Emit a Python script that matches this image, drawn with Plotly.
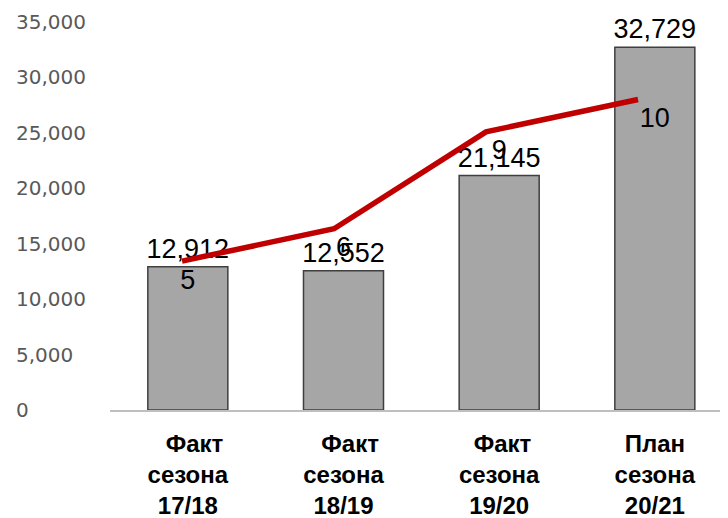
import plotly.graph_objects as go

categories = ["\u00a0\u00a0Факт<br>сезона<br>17/18", "\u00a0\u00a0Факт<br>сезона<br>18/19",
              "\u00a0Факт<br>сезона<br>19/20", "План<br>сезона<br>20/21"]
bar_values = [12912, 12552, 21145, 32729]
line_values = [5, 6, 9, 10]
y_ticks = [0, 5000, 10000, 15000, 20000, 25000, 30000, 35000]

fig = go.Figure()

fig.add_trace(go.Bar(
    x=categories, y=bar_values,
    width=0.514,
    marker=dict(color="#A6A6A6", line=dict(color="#3F3F3F", width=1.5)),
    text=[f"{v:,}" for v in bar_values],
    textposition="outside",
    constraintext="none",
    cliponaxis=False,
    textfont=dict(family="Liberation Sans", size=27, color="#000000"),
    xaxis="x", yaxis="y",
))

fig.add_trace(go.Scatter(
    x=categories, y=line_values,
    mode="lines",
    line=dict(color="#C00000", width=5.5),
    xaxis="x2", yaxis="y2",
))

fig.add_trace(go.Scatter(
    x=categories, y=line_values,
    mode="markers+text",
    marker=dict(size=10, color="rgba(0,0,0,0)"),
    text=[str(v) for v in line_values],
    textposition="bottom center",
    textfont=dict(family="Liberation Sans", size=27, color="#000000"),
    cliponaxis=False,
    xaxis="x", yaxis="y2",
))

fig.update_layout(
    width=720, height=510,
    margin=dict(l=7, r=0, t=14, b=108),
    paper_bgcolor="white", plot_bgcolor="white",
    showlegend=False,
    xaxis=dict(
        domain=[95 / 713, 1],
        range=[-0.5, 3.47],
        showline=True, linecolor="#BFBFBF", linewidth=2,
        showgrid=False, ticks="",
        tickfont=dict(family="Liberation Sans", size=24, color="#000000", weight="bold"),
        ticklabelstandoff=11,
        automargin=False,
    ),
    xaxis2=dict(
        overlaying="x", range=[-0.474, 3.592], visible=False,
        categoryorder="array", categoryarray=categories,
    ),
    yaxis=dict(
        range=[0, 35000],
        anchor="free", position=0, side="right",
        tickvals=y_ticks, ticktext=[f"{v:,}" for v in y_ticks],
        showgrid=False, zeroline=False, showline=False, ticks="",
        tickfont=dict(family="DejaVu Sans", size=20, color="#595959"),
        ticklabelstandoff=0,
        automargin=False,
    ),
    yaxis2=dict(
        overlaying="y", range=[0.39, 12.4], visible=False,
    ),
)

fig.write_html("out.html")
